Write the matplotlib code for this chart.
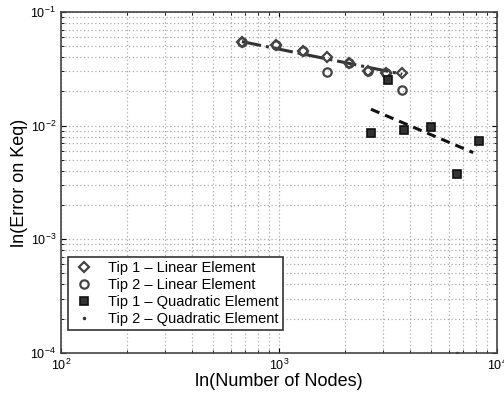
import matplotlib
matplotlib.use("Agg")
import matplotlib.pyplot as plt
import numpy as np

plt.rcParams['font.family'] = ['Liberation Sans', 'DejaVu Sans']

nodes_lin = [676, 966, 1291, 1666, 2094, 2568, 3083, 3678]
tip1_lin = [0.0548, 0.0513, 0.0454, 0.0400, 0.0354, 0.0303, 0.0292, 0.0289]
tip2_lin = [0.0548, 0.0513, 0.0454, 0.0295, 0.0354, 0.0303, 0.0292, 0.0206]

nodes_quad = [2642, 3162, 3740, 4977, 6553, 8260]
tip1_quad = [0.00863, 0.0252, 0.00917, 0.00975, 0.00376, 0.00733]
nodes_quad2 = [2642, 3740, 4977, 6553, 8260]
tip2_quad = [0.00863, 0.00917, 0.00975, 0.0001, 0.00733]

fit_lin_x = [676, 3678]
fit_lin_y = [0.0548, 0.0283]
fit_quad_x = [2642, 7780]
fit_quad_y = [0.01393, 0.00579]

fig = plt.figure(figsize=(5.04, 3.97), dpi=100)
ax = fig.add_axes([0.121, 0.111, 0.865, 0.859])

ax.plot(fit_lin_x, fit_lin_y, color='#333333', ls='-.', lw=2.2)
ax.plot(fit_quad_x, fit_quad_y, color='#111111', ls='--', lw=2.2, dashes=(3, 2))

ax.plot(nodes_lin, tip1_lin, ls='none', marker='D', ms=5, mfc='none', mec='#444444', mew=1.6,
        label='Tip 1 \u2013 Linear Element')
ax.plot(nodes_lin, tip2_lin, ls='none', marker='o', ms=6, mfc='none', mec='#444444', mew=1.6,
        label='Tip 2 \u2013 Linear Element')
ax.plot(nodes_quad, tip1_quad, ls='none', marker='s', ms=6, mfc='#333333', mec='#111111', mew=1.2,
        label='Tip 1 \u2013 Quadratic Element')
ax.plot(nodes_quad2, tip2_quad, ls='none', marker='.', ms=3, color='#333333',
        label='Tip 2 \u2013 Quadratic Element')

ax.set_xscale('log')
ax.set_yscale('log')
ax.set_xlim(1e2, 1e4)
ax.set_ylim(1e-4, 1e-1)
ax.grid(True, which='both', ls=(0, (1, 2)), color='#aaaaaa', lw=0.9)
ax.tick_params(which='both', direction='in', top=True, right=True, labelsize=9)
for s in ax.spines.values():
    s.set_color('#444444')
    s.set_linewidth(1.2)

ax.set_xlabel('ln(Number of Nodes)', fontsize=13, labelpad=0)
ax.set_ylabel('ln(Error on Keq)', fontsize=13, labelpad=2)

leg = ax.legend(loc='lower left', fontsize=10.5, frameon=True, fancybox=False,
                edgecolor='#333333', borderpad=0.3, labelspacing=0.2,
                handletextpad=0.8, handlelength=1.6, bbox_to_anchor=(0.0, 0.045),
                framealpha=1)
leg.get_frame().set_linewidth(1.2)

fig.savefig('out.png', dpi=100)
